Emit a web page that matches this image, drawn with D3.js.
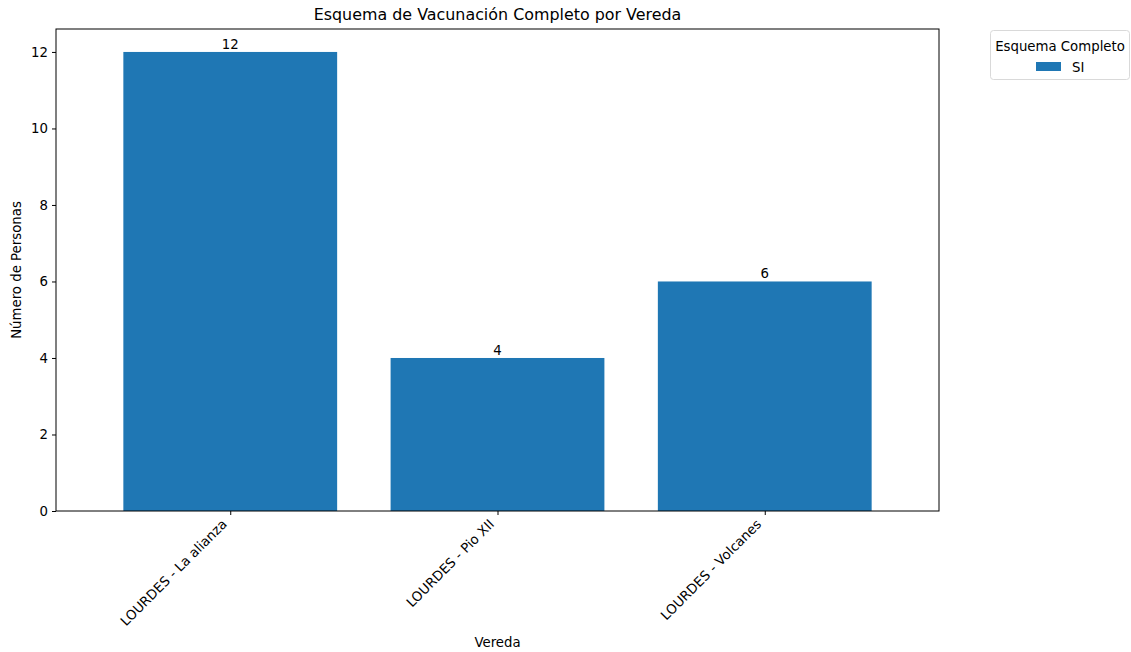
<!DOCTYPE html>
<html><head><meta charset="utf-8">
<script src="https://cdn.jsdelivr.net/npm/d3@7"></script>
<style>body{margin:0;background:#fff;} text{font-family:"DejaVu Sans",sans-serif;fill:#000;}</style>
</head><body><svg id="c" width="1131" height="652"></svg>
<script>
const categories = ["LOURDES - La alianza", "LOURDES - Pio XII", "LOURDES - Volcanes"];
const values = [12, 4, 6];
const yTicks = [0, 2, 4, 6, 8, 10, 12];
const seriesName = "SI";
const legendTitle = "Esquema Completo";

const svg = d3.select("#c");
const L = 56, R = 939, T = 29, B = 511;
const color = "#1f77b4";
const fs = 13.3;
const x = d3.scaleLinear().domain([-0.652, categories.length - 1 + 0.652]).range([L, R]);
const y = d3.scaleLinear().domain([0, 12.6]).range([B, T]);
const bw = x(0.4) - x(-0.4);

svg.append("g").selectAll("rect").data(values).join("rect")
  .attr("x", (d, i) => x(i) - bw / 2).attr("width", bw)
  .attr("y", d => y(d)).attr("height", d => y(0) - y(d)).attr("fill", color);

svg.append("g").selectAll("text").data(values).join("text")
  .attr("x", (d, i) => x(i)).attr("y", d => y(d) - 3)
  .attr("text-anchor", "middle").attr("font-size", fs).text(d => d);

// frame
svg.append("rect").attr("x", L).attr("y", T).attr("width", R - L).attr("height", B - T)
  .attr("fill", "none").attr("stroke", "#000").attr("stroke-width", 1);

// y axis
const ya = svg.append("g").attr("transform", `translate(${L},0)`)
  .call(d3.axisLeft(y).tickValues(yTicks).tickSize(4).tickPadding(4).tickFormat(d3.format("d")));
ya.select(".domain").remove();
ya.selectAll("text").attr("font-size", fs).attr("font-family", "DejaVu Sans");
ya.selectAll("line").attr("stroke", "#000");

// x axis
const xa = svg.append("g").attr("transform", `translate(0,${B})`)
  .call(d3.axisBottom(x).tickValues(d3.range(categories.length)).tickSize(4).tickFormat(i => categories[i]));
xa.select(".domain").remove();
xa.selectAll("line").attr("stroke", "#000");
xa.selectAll("text").attr("font-size", fs).attr("font-family", "DejaVu Sans")
  .attr("text-anchor", "end").attr("dy", null).attr("y", 0)
  .attr("transform", "translate(-3,14) rotate(-45)");

svg.append("text").attr("x", (L + R) / 2).attr("y", 20).attr("text-anchor", "middle")
  .attr("font-size", 15.9).text("Esquema de Vacunación Completo por Vereda");
svg.append("text").attr("x", (L + R) / 2).attr("y", 647).attr("text-anchor", "middle")
  .attr("font-size", fs).text("Vereda");
svg.append("text").attr("transform", `translate(21,${(T + B) / 2}) rotate(-90)`)
  .attr("text-anchor", "middle").attr("font-size", fs).text("Número de Personas");

// legend
const lg = svg.append("g");
lg.append("rect").attr("x", 990.5).attr("y", 30.5).attr("width", 139).attr("height", 49)
  .attr("rx", 3).attr("fill", "#fff").attr("stroke", "#d9d9d9");
lg.append("text").attr("x", 1060).attr("y", 51).attr("text-anchor", "middle").attr("font-size", fs).text(legendTitle);
lg.append("rect").attr("x", 1036).attr("y", 62).attr("width", 25).attr("height", 9).attr("fill", color);
lg.append("text").attr("x", 1072).attr("y", 71.5).attr("font-size", fs).text(seriesName);
</script></body></html>
